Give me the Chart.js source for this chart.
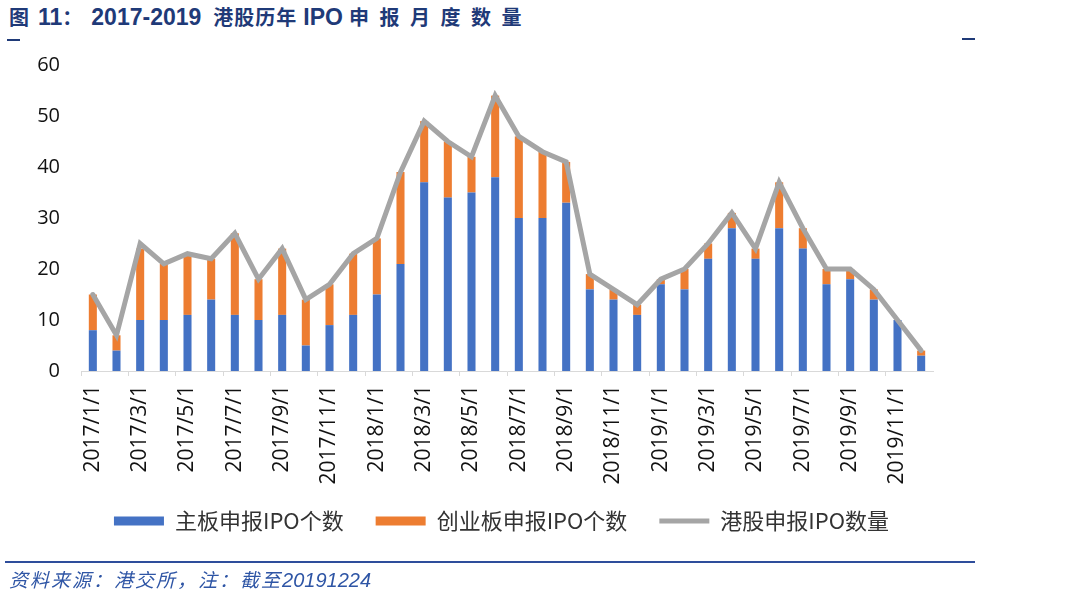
<!DOCTYPE html>
<html>
<head>
<meta charset="utf-8">
<script src="https://cdn.jsdelivr.net/npm/chart.js@4"></script>
<style>
  body { margin: 0; background: #fff; width: 1080px; height: 598px; position: relative; overflow: hidden; }
  #title { position: absolute; left: 9px; top: 2px; display: flex; align-items: baseline; color: #1f3a78; white-space: nowrap; font-weight: bold; }
  #title .cj { font: bold 20px "Noto Sans CJK SC", sans-serif; }
  #title .la { font: bold 23px "Liberation Sans", sans-serif; }
  .dash { position: absolute; height: 2px; background: #1f3a78; }
  #box { position: absolute; left: 0; top: 0; width: 992px; height: 598px; }
  #rule { position: absolute; left: 5px; top: 561px; width: 970px; height: 2px; background: #2e4d9b; }
  #src { position: absolute; left: 9px; top: 565px; font: italic 19px "Noto Sans CJK SC", sans-serif; color: #2e55a5; letter-spacing: 2px; white-space: nowrap; }
  #src b { font: italic 20px "Liberation Sans", sans-serif; letter-spacing: 0; }
</style>
</head>
<body>
<div id="title">
  <span class="cj">图</span>
  <span class="la" style="margin-left:9px">11</span><span class="cj">：</span>
  <span class="la" style="margin-left:9px">2017-2019</span>
  <span class="cj" style="margin-left:12px;letter-spacing:1px">港股历年</span>
  <span class="la" style="margin-left:6px">IPO</span>
  <span class="cj" style="margin-left:6px;letter-spacing:10.5px">申报月度数量</span>
</div>
<div class="dash" style="left:7px;top:39px;width:13px"></div>
<div class="dash" style="left:962px;top:38px;width:13px"></div>
<div id="box"><canvas id="c"></canvas></div>
<div id="rule"></div>
<div id="src">资料来源：港交所，注：截至<b>20191224</b></div>
<script>
const months = ['2017/1/1','2017/2/1','2017/3/1','2017/4/1','2017/5/1','2017/6/1','2017/7/1','2017/8/1','2017/9/1','2017/10/1','2017/11/1','2017/12/1',
  '2018/1/1','2018/2/1','2018/3/1','2018/4/1','2018/5/1','2018/6/1','2018/7/1','2018/8/1','2018/9/1','2018/10/1','2018/11/1','2018/12/1',
  '2019/1/1','2019/2/1','2019/3/1','2019/4/1','2019/5/1','2019/6/1','2019/7/1','2019/8/1','2019/9/1','2019/10/1','2019/11/1','2019/12/1'];
const mainBoard = [8,4,10,10,11,14,11,10,11,5,9,11, 15,21,37,34,35,38,30,30,33,16,14,11, 17,16,22,28,22,28,24,17,18,14,10,3];
const gemBoard  = [7,3,14,11,12,8,16,8,13,9,8,12, 11,18,12,11,7,16,16,13,8,3,2,2, 1,4,3,3,2,9,4,3,2,2,0,1];
const ipoTotal  = [15,7,25,21,23,22,27,18,24,14,17,23, 26,39,49,45,42,54,46,43,41,19,16,13, 18,20,25,31,24,37,28,20,20,16,10,4];
const yTicks = [0,10,20,30,40,50,60];

const ctx1 = document.getElementById('c');
myChart1 = new Chart(ctx1, {
  type: 'bar',
  data: {
    labels: months,
    datasets: [{
      label: '主板申报IPO个数',
      data: mainBoard,
      backgroundColor: '#4472c4',
      pointStyle: 'rect',
      order: 1
    }, {
      label: '创业板申报IPO个数',
      data: gemBoard,
      backgroundColor: '#ed7d31',
      pointStyle: 'rect',
      order: 1
    }, {
      type: 'line',
      label: '港股申报IPO数量',
      data: ipoTotal,
      stack: 'total',
      borderColor: '#a5a5a5',
      backgroundColor: '#a5a5a5',
      borderWidth: 5,
      borderCapStyle: 'round',
      pointRadius: 0,
      pointStyle: 'line',
      tension: 0,
      order: 0
    }]
  },
  options: {
    responsive: true,
    maintainAspectRatio: false,
    animation: false,
    barPercentage: 0.34,
    categoryPercentage: 1,
    layout: { padding: { top: 65, right: 59, bottom: 56, left: 0 } },
    plugins: {
      tooltip: { enabled: false },
      legend: {
        position: 'bottom',
        fullSize: false,
        labels: {
          usePointStyle: true,
          pointStyleWidth: 50,
          boxHeight: 9,
          padding: 21,
          color: '#333',
          font: { family: '"Noto Sans CJK SC", sans-serif', size: 22 },
          generateLabels: chart => Chart.defaults.plugins.legend.labels.generateLabels(chart)
            .map(l => Object.assign(l, { text: l.text + '\u2002' })),
          sort: (a, b) => a.datasetIndex - b.datasetIndex
        }
      }
    },
    scales: {
      x: {
        stacked: true,
        grid: {
          offset: true,
          drawOnChartArea: false,
          tickLength: 5,
          color: c => c.index % 2 === 0 ? '#d9d9d9' : 'rgba(0,0,0,0)'
        },
        border: { color: '#d9d9d9' },
        ticks: {
          autoSkip: false,
          minRotation: 90,
          maxRotation: 90,
          padding: 9,
          color: '#111',
          font: { family: '"Open Sans", sans-serif', size: 21 },
          callback: (v, i) => i % 2 === 0 ? months[i] : ''
        },
        afterFit: s => { s.height = 118; }
      },
      y: {
        stacked: true,
        min: 0,
        max: 60,
        grid: { display: false, drawTicks: false },
        border: { display: false },
        afterBuildTicks: s => { s.ticks = yTicks.map(v => ({ value: v })); },
        ticks: {
          padding: 21,
          color: '#111',
          font: { family: '"Open Sans", sans-serif', size: 20 }
        },
        afterFit: s => { s.width = 81; }
      }
    }
  }
});
</script>
</body>
</html>
